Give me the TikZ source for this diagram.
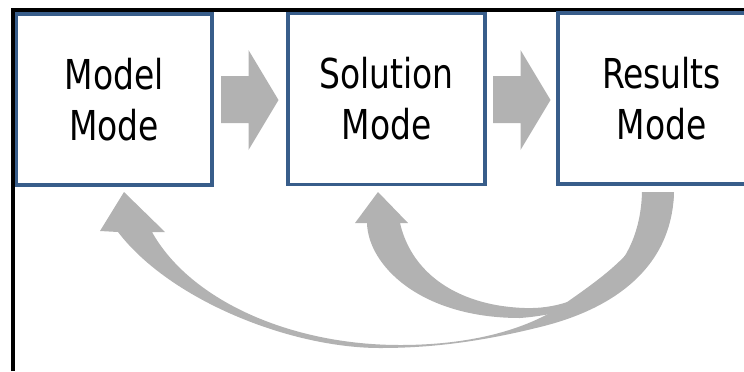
\documentclass[tikz,border=0pt]{standalone}
\usepackage{fontspec}
\usepackage{tikz}
\usetikzlibrary{positioning}
\newfontfamily\modefont{DejaVu Sans}[FakeStretch=0.8]
\definecolor{boxblue}{RGB}{56,93,138}
\definecolor{arrowgray}{RGB}{178,178,178}

\begin{document}
\begin{tikzpicture}[x=0.5pt,y=-0.5pt,
  modebox/.style={draw=boxblue,line width=1.75pt,fill=white,
    minimum width=97.75pt,minimum height=85.5pt,inner sep=0pt,align=center,
    font=\modefont\fontsize{20.6}{25.5}\selectfont},
  flowarrow/.style={fill=arrowgray}]
\useasboundingbox (0,0) rectangle (744,371);
\clip (0,0) rectangle (744,371);

% frame
\draw[line width=2pt] (13,371) |- (744,10);

% long arrow back to model mode
\fill[flowarrow] (124,192) -- (165,232) -- (152,232)
  .. controls (190,300) and (290,345) .. (400,345)
  .. controls (470,345) and (530,330) .. (570,300)
  .. controls (620,265) and (650,240) .. (655,192)
  -- (674,192)
  .. controls (672,270) and (610,310) .. (540,327)
  .. controls (480,342) and (430,348) .. (380,348)
  .. controls (290,348) and (170,300) .. (118,232)
  -- (100,231) -- cycle;

% short arrow back to solution mode
\fill[flowarrow] (378,192) -- (408,223) -- (400,223)
  .. controls (412,275) and (460,306) .. (525,308)
  .. controls (585,310) and (640,270) .. (642,192)
  -- (674,192)
  .. controls (670,270) and (600,312) .. (520,318)
  .. controls (420,318) and (368,265) .. (367,223)
  -- (355,223) -- cycle;

% forward arrows
\foreach \x in {221,493}
  \fill[flowarrow] (\x,76) -- ++(27.5,0) -- ++(0,-26) -- ++(30,50)
    -- ++(-30,50) -- ++(0,-27) -- ++(-27.5,0) -- cycle;

% modes
\node[modebox] (model) at (114.25,99.5) {Model\\Mode};
\node[modebox,minimum width=98.5pt] (solution) at (386.5,99) {Solution\\Mode};
\node[modebox,minimum width=103.5pt] (results) at (661.5,98.5) {Results\\Mode};

\end{tikzpicture}
\end{document}
